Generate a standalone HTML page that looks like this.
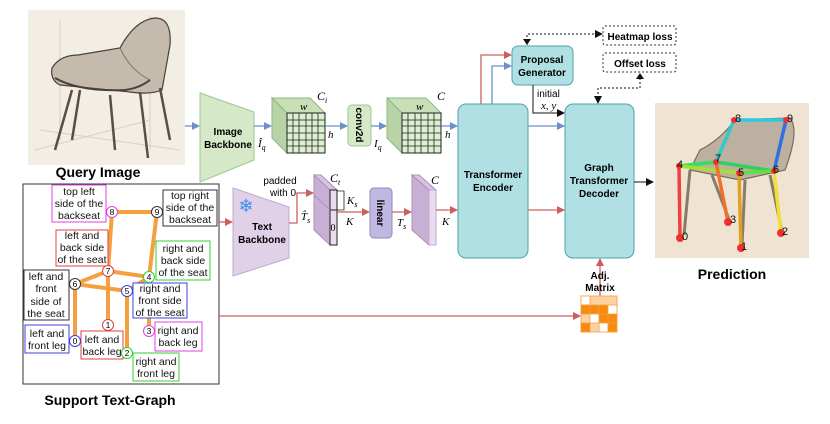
<!DOCTYPE html>
<html><head><meta charset="utf-8"><style>
body{margin:0;background:#fff;}
svg{display:block;font-family:"Liberation Sans",sans-serif;}
.b{font-weight:bold;}
</style></head><body>
<svg width="830" height="424" viewBox="0 0 830 424" xmlns="http://www.w3.org/2000/svg">
<defs>
<marker id="ab" markerWidth="8" markerHeight="8" refX="7" refY="4" orient="auto" markerUnits="userSpaceOnUse"><path d="M0,0 L8,4 L0,8 z" fill="#6e8fcb"/></marker>
<marker id="ar" markerWidth="8" markerHeight="8" refX="7" refY="4" orient="auto" markerUnits="userSpaceOnUse"><path d="M0,0 L8,4 L0,8 z" fill="#c9605e"/></marker>
<marker id="ak" markerWidth="8" markerHeight="8" refX="7" refY="4" orient="auto" markerUnits="userSpaceOnUse"><path d="M0,0 L8,4 L0,8 z" fill="#111"/></marker>
</defs>

<!-- Query image -->
<rect x="28" y="10" width="157" height="155" fill="#f3eee4"/>
<g stroke="#4a4038" fill="none" stroke-width="1.2">
<path d="M40,130 L180,150 M35,150 L150,120 M60,20 V140 M150,15 V150" stroke="#ddd4c6"/>
<path d="M52,68 Q60,55 78,55 L120,48 Q135,20 155,18 Q172,18 170,45 L162,90 Q150,95 130,92 L60,85 Q50,80 52,68z" fill="#c4bbad"/>
<path d="M120,48 Q130,70 150,80" stroke="#8a7e70"/>
<path d="M55,78 Q80,92 125,90 Q140,88 150,80" stroke-width="2"/>
<path d="M72,90 L55,150 M80,90 L72,140 M140,92 L148,158 M160,88 L170,140 M110,95 L115,150" stroke-width="2.5" stroke="#5a4e44"/>
</g>
<text x="98" y="177" font-size="14" class="b" text-anchor="middle">Query Image</text>

<!-- Support text graph -->
<rect x="23" y="184" width="196" height="200" fill="#fff" stroke="#333" stroke-width="1"/>
<g stroke="#f5a040" stroke-width="4" fill="none" stroke-linecap="round">
<path d="M112,212 L157,212 M112,212 L108,271 M157,212 L149,277 M108,271 L75,284 M108,271 L149,277 M75,284 L127,291 M127,291 L149,277 M108,271 L108,325 M127,291 L127,353 M149,277 L149,331 M75,284 L75,341"/>
</g>
<g font-size="10.5" text-anchor="middle" fill="#111">
<rect x="52" y="185" width="54" height="37" fill="#fff" stroke="#e040e0"/>
<text x="79" y="195">top left</text><text x="79" y="207">side of the</text><text x="79" y="219">backseat</text>
<rect x="163" y="190" width="54" height="36" fill="#fff" stroke="#333"/>
<text x="190" y="199">top right</text><text x="190" y="211">side of the</text><text x="190" y="223">backseat</text>
<rect x="56" y="230" width="52" height="36" fill="#fff" stroke="#e04040"/>
<text x="82" y="239">left and</text><text x="82" y="251">back side</text><text x="82" y="263">of the seat</text>
<rect x="156" y="241" width="54" height="39" fill="#fff" stroke="#30d030"/>
<text x="183" y="252">right and</text><text x="183" y="264">back side</text><text x="183" y="276">of the seat</text>
<rect x="24" y="270" width="45" height="50" fill="#fff" stroke="#333"/>
<text x="46" y="280">left and</text><text x="46" y="292">front</text><text x="46" y="305">side of</text><text x="46" y="317">the seat</text>
<rect x="133" y="283" width="54" height="35" fill="#fff" stroke="#4040e0"/>
<text x="160" y="292">right and</text><text x="160" y="304">front side</text><text x="160" y="316">of the seat</text>
<rect x="25" y="325" width="44" height="28" fill="#fff" stroke="#4040e0"/>
<text x="47" y="337">left and</text><text x="47" y="349">front leg</text>
<rect x="81" y="331" width="42" height="28" fill="#fff" stroke="#e04040"/>
<text x="102" y="343">left and</text><text x="102" y="355">back leg</text>
<rect x="155" y="322" width="47" height="29" fill="#fff" stroke="#e040e0"/>
<text x="178" y="334">right and</text><text x="178" y="346">back leg</text>
<rect x="133" y="353" width="46" height="28" fill="#fff" stroke="#30d030"/>
<text x="156" y="365">right and</text><text x="156" y="377">front leg</text>
</g>
<g font-size="8.5" text-anchor="middle">
<circle cx="112" cy="212" r="5.5" fill="#fff" stroke="#e040e0"/><text x="112" y="215">8</text>
<circle cx="157" cy="212" r="5.5" fill="#fff" stroke="#333"/><text x="157" y="215">9</text>
<circle cx="108" cy="271" r="5.5" fill="#fff" stroke="#e04040"/><text x="108" y="274">7</text>
<circle cx="149" cy="277" r="5.5" fill="#fff" stroke="#30d030"/><text x="149" y="280">4</text>
<circle cx="75" cy="284" r="5.5" fill="#fff" stroke="#333"/><text x="75" y="287">6</text>
<circle cx="127" cy="291" r="5.5" fill="#fff" stroke="#4040e0"/><text x="127" y="294">5</text>
<circle cx="108" cy="325" r="5.5" fill="#fff" stroke="#e04040"/><text x="108" y="328">1</text>
<circle cx="149" cy="331" r="5.5" fill="#fff" stroke="#e040e0"/><text x="149" y="334">3</text>
<circle cx="75" cy="341" r="5.5" fill="#fff" stroke="#4040e0"/><text x="75" y="344">0</text>
<circle cx="127" cy="353" r="5.5" fill="#fff" stroke="#30d030"/><text x="127" y="356">2</text>
</g>
<text x="110" y="405" font-size="14" class="b" text-anchor="middle">Support Text-Graph</text>

<!-- Image backbone -->
<line x1="185" y1="126" x2="199" y2="126" stroke="#6e8fcb" stroke-width="1.3" marker-end="url(#ab)"/>
<path d="M200,93 L254,112 L254,160 L200,182z" fill="#d5e8c8" stroke="#9cc890"/>
<text x="228" y="135" font-size="10" class="b" text-anchor="middle">Image</text>
<text x="228" y="148" font-size="10" class="b" text-anchor="middle">Backbone</text>
<line x1="254" y1="126" x2="271" y2="126" stroke="#6e8fcb" stroke-width="1.3" marker-end="url(#ab)"/>
<text x="258" y="147" font-size="11" font-style="italic" font-family="Liberation Serif">Î<tspan font-size="8" dy="3">q</tspan></text>

<!-- cube 1 -->
<g stroke="#8cb87c">
<path d="M272,98 L310,98 L325,113 L287,113z" fill="#c8dfb8"/>
<path d="M272,98 L287,113 L287,153 L272,138z" fill="#b8d4a6"/>
</g>
<rect x="287" y="113" width="38" height="40" fill="#dcefd0" stroke="#222"/>
<g stroke="#222" stroke-width="0.8">
<path d="M287,120 H325 M287,126 H325 M287,133 H325 M287,140 H325 M287,146 H325 M293,113 V153 M299,113 V153 M306,113 V153 M312,113 V153 M318,113 V153"/>
</g>
<text x="300" y="110" font-size="11" font-style="italic" font-family="Liberation Serif">w</text>
<text x="317" y="100" font-size="12" font-style="italic" font-family="Liberation Serif">C<tspan font-size="8" dy="3">i</tspan></text>
<text x="328" y="138" font-size="11" font-style="italic" font-family="Liberation Serif">h</text>
<line x1="325" y1="126" x2="347" y2="126" stroke="#6e8fcb" stroke-width="1.3" marker-end="url(#ab)"/>
<rect x="348" y="105" width="23" height="41" rx="4" fill="#d5e8c8" stroke="#9cc890"/>
<text transform="translate(356,125) rotate(90)" font-size="10" class="b" text-anchor="middle">conv2d</text>
<line x1="371" y1="126" x2="386" y2="126" stroke="#6e8fcb" stroke-width="1.3" marker-end="url(#ab)"/>
<text x="374" y="147" font-size="11" font-style="italic" font-family="Liberation Serif">I<tspan font-size="8" dy="3">q</tspan></text>

<!-- cube 2 -->
<g stroke="#8cb87c">
<path d="M387,98 L426,98 L441,113 L402,113z" fill="#c8dfb8"/>
<path d="M387,98 L402,113 L402,153 L387,138z" fill="#b8d4a6"/>
</g>
<rect x="402" y="113" width="39" height="40" fill="#dcefd0" stroke="#222"/>
<g stroke="#222" stroke-width="0.8">
<path d="M402,120 H441 M402,126 H441 M402,133 H441 M402,140 H441 M402,146 H441 M408,113 V153 M415,113 V153 M421,113 V153 M428,113 V153 M434,113 V153"/>
</g>
<text x="416" y="110" font-size="11" font-style="italic" font-family="Liberation Serif">w</text>
<text x="437" y="100" font-size="12" font-style="italic" font-family="Liberation Serif">C</text>
<text x="445" y="138" font-size="11" font-style="italic" font-family="Liberation Serif">h</text>
<line x1="441" y1="126" x2="457" y2="126" stroke="#6e8fcb" stroke-width="1.3" marker-end="url(#ab)"/>

<!-- Text backbone -->
<line x1="219" y1="222" x2="232" y2="222" stroke="#c9605e" stroke-width="1.3" marker-end="url(#ar)"/>
<path d="M233,188 L289,207 L289,258 L233,276z" fill="#e0d0e8" stroke="#c0a8d0"/>
<text x="246" y="212" font-size="18" fill="#3a8ee8" text-anchor="middle">❄</text>
<text x="262" y="230" font-size="10" class="b" text-anchor="middle">Text</text>
<text x="262" y="243" font-size="10" class="b" text-anchor="middle">Backbone</text>
<text x="280" y="184" font-size="10" text-anchor="middle">padded</text>
<text x="283" y="196" font-size="10" text-anchor="middle">with 0</text>
<polyline points="289,223 297,223 297,193 313,193" fill="none" stroke="#c9605e" stroke-width="1.3" marker-end="url(#ar)"/>
<path d="M314,175 L330,190 L337,190 L337,245 L330,245 L314,230z" fill="#c8b0d4" stroke="#a890b8"/>
<path d="M314,175 L321,175 L337,190 L330,190z" fill="#d8c4e2" stroke="#a890b8"/>
<rect x="330" y="190" width="7" height="55" fill="#e8dcee" stroke="#222"/>
<line x1="330" y1="210" x2="337" y2="210" stroke="#222"/>
<path d="M314,195 L330,210" stroke="#a890b8"/>
<text x="333" y="231" font-size="10" text-anchor="middle" font-family="Liberation Serif">0</text>
<path d="M337,191 H344 V210 H337" fill="none" stroke="#222" stroke-width="0.8"/>
<text x="347" y="204" font-size="11" font-style="italic" font-family="Liberation Serif">K<tspan font-size="8" dy="3">s</tspan></text>
<text x="346" y="225" font-size="11" font-style="italic" font-family="Liberation Serif">K</text>
<text x="330" y="182" font-size="12" font-style="italic" font-family="Liberation Serif">C<tspan font-size="8" dy="3">t</tspan></text>
<text x="301" y="220" font-size="11" font-style="italic" font-family="Liberation Serif">T̂<tspan font-size="8" dy="3">s</tspan></text>
<line x1="337" y1="212" x2="369" y2="212" stroke="#c9605e" stroke-width="1.3" marker-end="url(#ar)"/>
<rect x="370" y="188" width="22" height="50" rx="4" fill="#c0b8e0" stroke="#9088c0"/>
<text transform="translate(377,213) rotate(90)" font-size="10" class="b" text-anchor="middle">linear</text>
<line x1="392" y1="212" x2="411" y2="212" stroke="#c9605e" stroke-width="1.3" marker-end="url(#ar)"/>
<text x="397" y="226" font-size="11" font-style="italic" font-family="Liberation Serif">T<tspan font-size="8" dy="3">s</tspan></text>
<path d="M412,175 L429,190 L436,190 L436,245 L429,245 L412,230z" fill="#c8b0d4" stroke="#a890b8"/>
<path d="M412,175 L419,175 L436,190 L429,190z" fill="#d8c4e2" stroke="#a890b8"/>
<rect x="429" y="190" width="7" height="55" fill="#e8dcee" stroke="#c0a8d0"/>
<text x="431" y="184" font-size="12" font-style="italic" font-family="Liberation Serif">C</text>
<text x="442" y="225" font-size="11" font-style="italic" font-family="Liberation Serif">K</text>
<line x1="436" y1="210" x2="457" y2="210" stroke="#c9605e" stroke-width="1.3" marker-end="url(#ar)"/>

<!-- Transformer encoder -->
<rect x="458" y="104" width="70" height="154" rx="8" fill="#b0e0e3" stroke="#4aa3a8"/>
<text x="493" y="178" font-size="10" class="b" text-anchor="middle">Transformer</text>
<text x="493" y="191" font-size="10" class="b" text-anchor="middle">Encoder</text>
<line x1="528" y1="126" x2="564" y2="126" stroke="#6e8fcb" stroke-width="1.3" marker-end="url(#ab)"/>
<line x1="528" y1="210" x2="564" y2="210" stroke="#c9605e" stroke-width="1.3" marker-end="url(#ar)"/>
<polyline points="481,104 481,55 511,55" fill="none" stroke="#c9605e" stroke-width="1.3" marker-end="url(#ar)"/>
<polyline points="492,104 492,66 511,66" fill="none" stroke="#6e8fcb" stroke-width="1.3" marker-end="url(#ab)"/>

<!-- Proposal generator -->
<rect x="512" y="46" width="61" height="39" rx="6" fill="#b0e0e3" stroke="#4aa3a8"/>
<text x="542" y="63" font-size="10" class="b" text-anchor="middle">Proposal</text>
<text x="542" y="76" font-size="10" class="b" text-anchor="middle">Generator</text>
<polyline points="533,85 533,113 564,113" fill="none" stroke="#111" stroke-width="1" marker-end="url(#ak)"/>
<text x="537" y="97" font-size="10">initial</text>
<text x="541" y="109" font-size="11" font-style="italic" font-family="Liberation Serif">x, y</text>

<!-- losses -->
<rect x="603" y="26" width="73" height="19" rx="2" fill="#fff" stroke="#333" stroke-dasharray="2,2"/>
<text x="640" y="40" font-size="10" class="b" text-anchor="middle">Heatmap loss</text>
<rect x="603" y="53" width="73" height="19" rx="2" fill="#fff" stroke="#333" stroke-dasharray="2,2"/>
<text x="640" y="67" font-size="10" class="b" text-anchor="middle">Offset loss</text>
<polyline points="527,45 527,34 602,34" fill="none" stroke="#111" stroke-dasharray="2,2" marker-end="url(#ak)"/>
<path d="M523,39 L527,45 L531,39z" fill="#111"/>
<polyline points="640,74 640,88 598,88 598,103" fill="none" stroke="#111" stroke-dasharray="2,2" marker-end="url(#ak)"/>
<path d="M636,79 L640,73 L644,79z" fill="#111"/>

<!-- Graph transformer decoder -->
<rect x="565" y="104" width="69" height="154" rx="8" fill="#b0e0e3" stroke="#4aa3a8"/>
<text x="599" y="171" font-size="10" class="b" text-anchor="middle">Graph</text>
<text x="599" y="184" font-size="10" class="b" text-anchor="middle">Transformer</text>
<text x="599" y="197" font-size="10" class="b" text-anchor="middle">Decoder</text>
<line x1="634" y1="182" x2="653" y2="182" stroke="#111" stroke-width="1" marker-end="url(#ak)"/>

<!-- Adj matrix -->
<line x1="219" y1="316" x2="580" y2="316" stroke="#c9605e" stroke-width="1.3" marker-end="url(#ar)"/>
<line x1="600" y1="296" x2="600" y2="259" stroke="#c9605e" stroke-width="1.3" marker-end="url(#ar)"/>
<text x="600" y="279" font-size="10" class="b" text-anchor="middle">Adj.</text>
<text x="600" y="291" font-size="10" class="b" text-anchor="middle">Matrix</text>
<g stroke="#f7a040" stroke-width="0.8">
<rect x="581" y="296" width="36" height="36" fill="#fcd2a2"/>
<rect x="581" y="296" width="9" height="9" fill="#fff"/>
<rect x="590" y="305" width="9" height="9" fill="#f78a10"/>
<rect x="599" y="305" width="9" height="9" fill="#f78a10"/>
<rect x="581" y="305" width="9" height="9" fill="#f78a10"/>
<rect x="590" y="314" width="9" height="9" fill="#fff"/>
<rect x="608" y="314" width="9" height="9" fill="#f78a10"/>
<rect x="599" y="314" width="9" height="9" fill="#f78a10"/>
<rect x="581" y="323" width="9" height="9" fill="#f78a10"/>
<rect x="599" y="323" width="9" height="9" fill="#fff"/>
<rect x="608" y="323" width="9" height="9" fill="#f78a10"/>
<rect x="608" y="305" width="9" height="9" fill="#fff"/>
</g>

<!-- Prediction image -->
<rect x="655" y="103" width="154" height="155" fill="#efe3d2"/>
<g stroke="#7a6a5a" fill="none" stroke-width="1.2">
<path d="M700,150 Q720,140 735,120 L790,118 Q800,130 785,170 L740,180 L690,170z" fill="#bcb0a0"/>
<path d="M690,170 L684,235 M712,175 L730,222 M770,175 L782,232 M745,180 L742,246" stroke-width="3" stroke="#8a7a68"/>
</g>
<g stroke-width="3.5" stroke-linecap="round" fill="none">
<line x1="734" y1="120" x2="786" y2="120" stroke="#30c8e0"/>
<line x1="734" y1="120" x2="716" y2="162" stroke="#30c8c8"/>
<line x1="786" y1="120" x2="774" y2="171" stroke="#3070e0"/>
<line x1="679" y1="166" x2="716" y2="162" stroke="#30e060"/>
<line x1="716" y1="162" x2="774" y2="171" stroke="#30d060"/>
<line x1="679" y1="166" x2="739" y2="173" stroke="#a8e030"/>
<line x1="739" y1="173" x2="774" y2="171" stroke="#60e040"/>
<line x1="679" y1="166" x2="680" y2="238" stroke="#f04040"/>
<line x1="716" y1="162" x2="728" y2="222" stroke="#f07030"/>
<line x1="739" y1="173" x2="741" y2="248" stroke="#e0a020"/>
<line x1="774" y1="171" x2="781" y2="233" stroke="#f0e030"/>
</g>
<g fill="#f03030">
<circle cx="734" cy="120" r="3"/><circle cx="786" cy="120" r="3"/><circle cx="679" cy="166" r="3"/><circle cx="716" cy="162" r="3"/><circle cx="739" cy="173" r="3"/><circle cx="774" cy="171" r="3"/><circle cx="728" cy="222" r="4"/><circle cx="680" cy="238" r="4"/><circle cx="781" cy="233" r="4"/><circle cx="741" cy="248" r="4"/>
</g>
<g font-size="11" fill="#111">
<text x="735" y="122">8</text><text x="787" y="122">9</text><text x="677" y="168">4</text><text x="715" y="162">7</text><text x="738" y="176">5</text><text x="773" y="173">6</text><text x="730" y="223">3</text><text x="682" y="240">0</text><text x="782" y="235">2</text><text x="741" y="250">1</text>
</g>
<text x="732" y="279" font-size="14" class="b" text-anchor="middle">Prediction</text>
</svg>
</body></html>
